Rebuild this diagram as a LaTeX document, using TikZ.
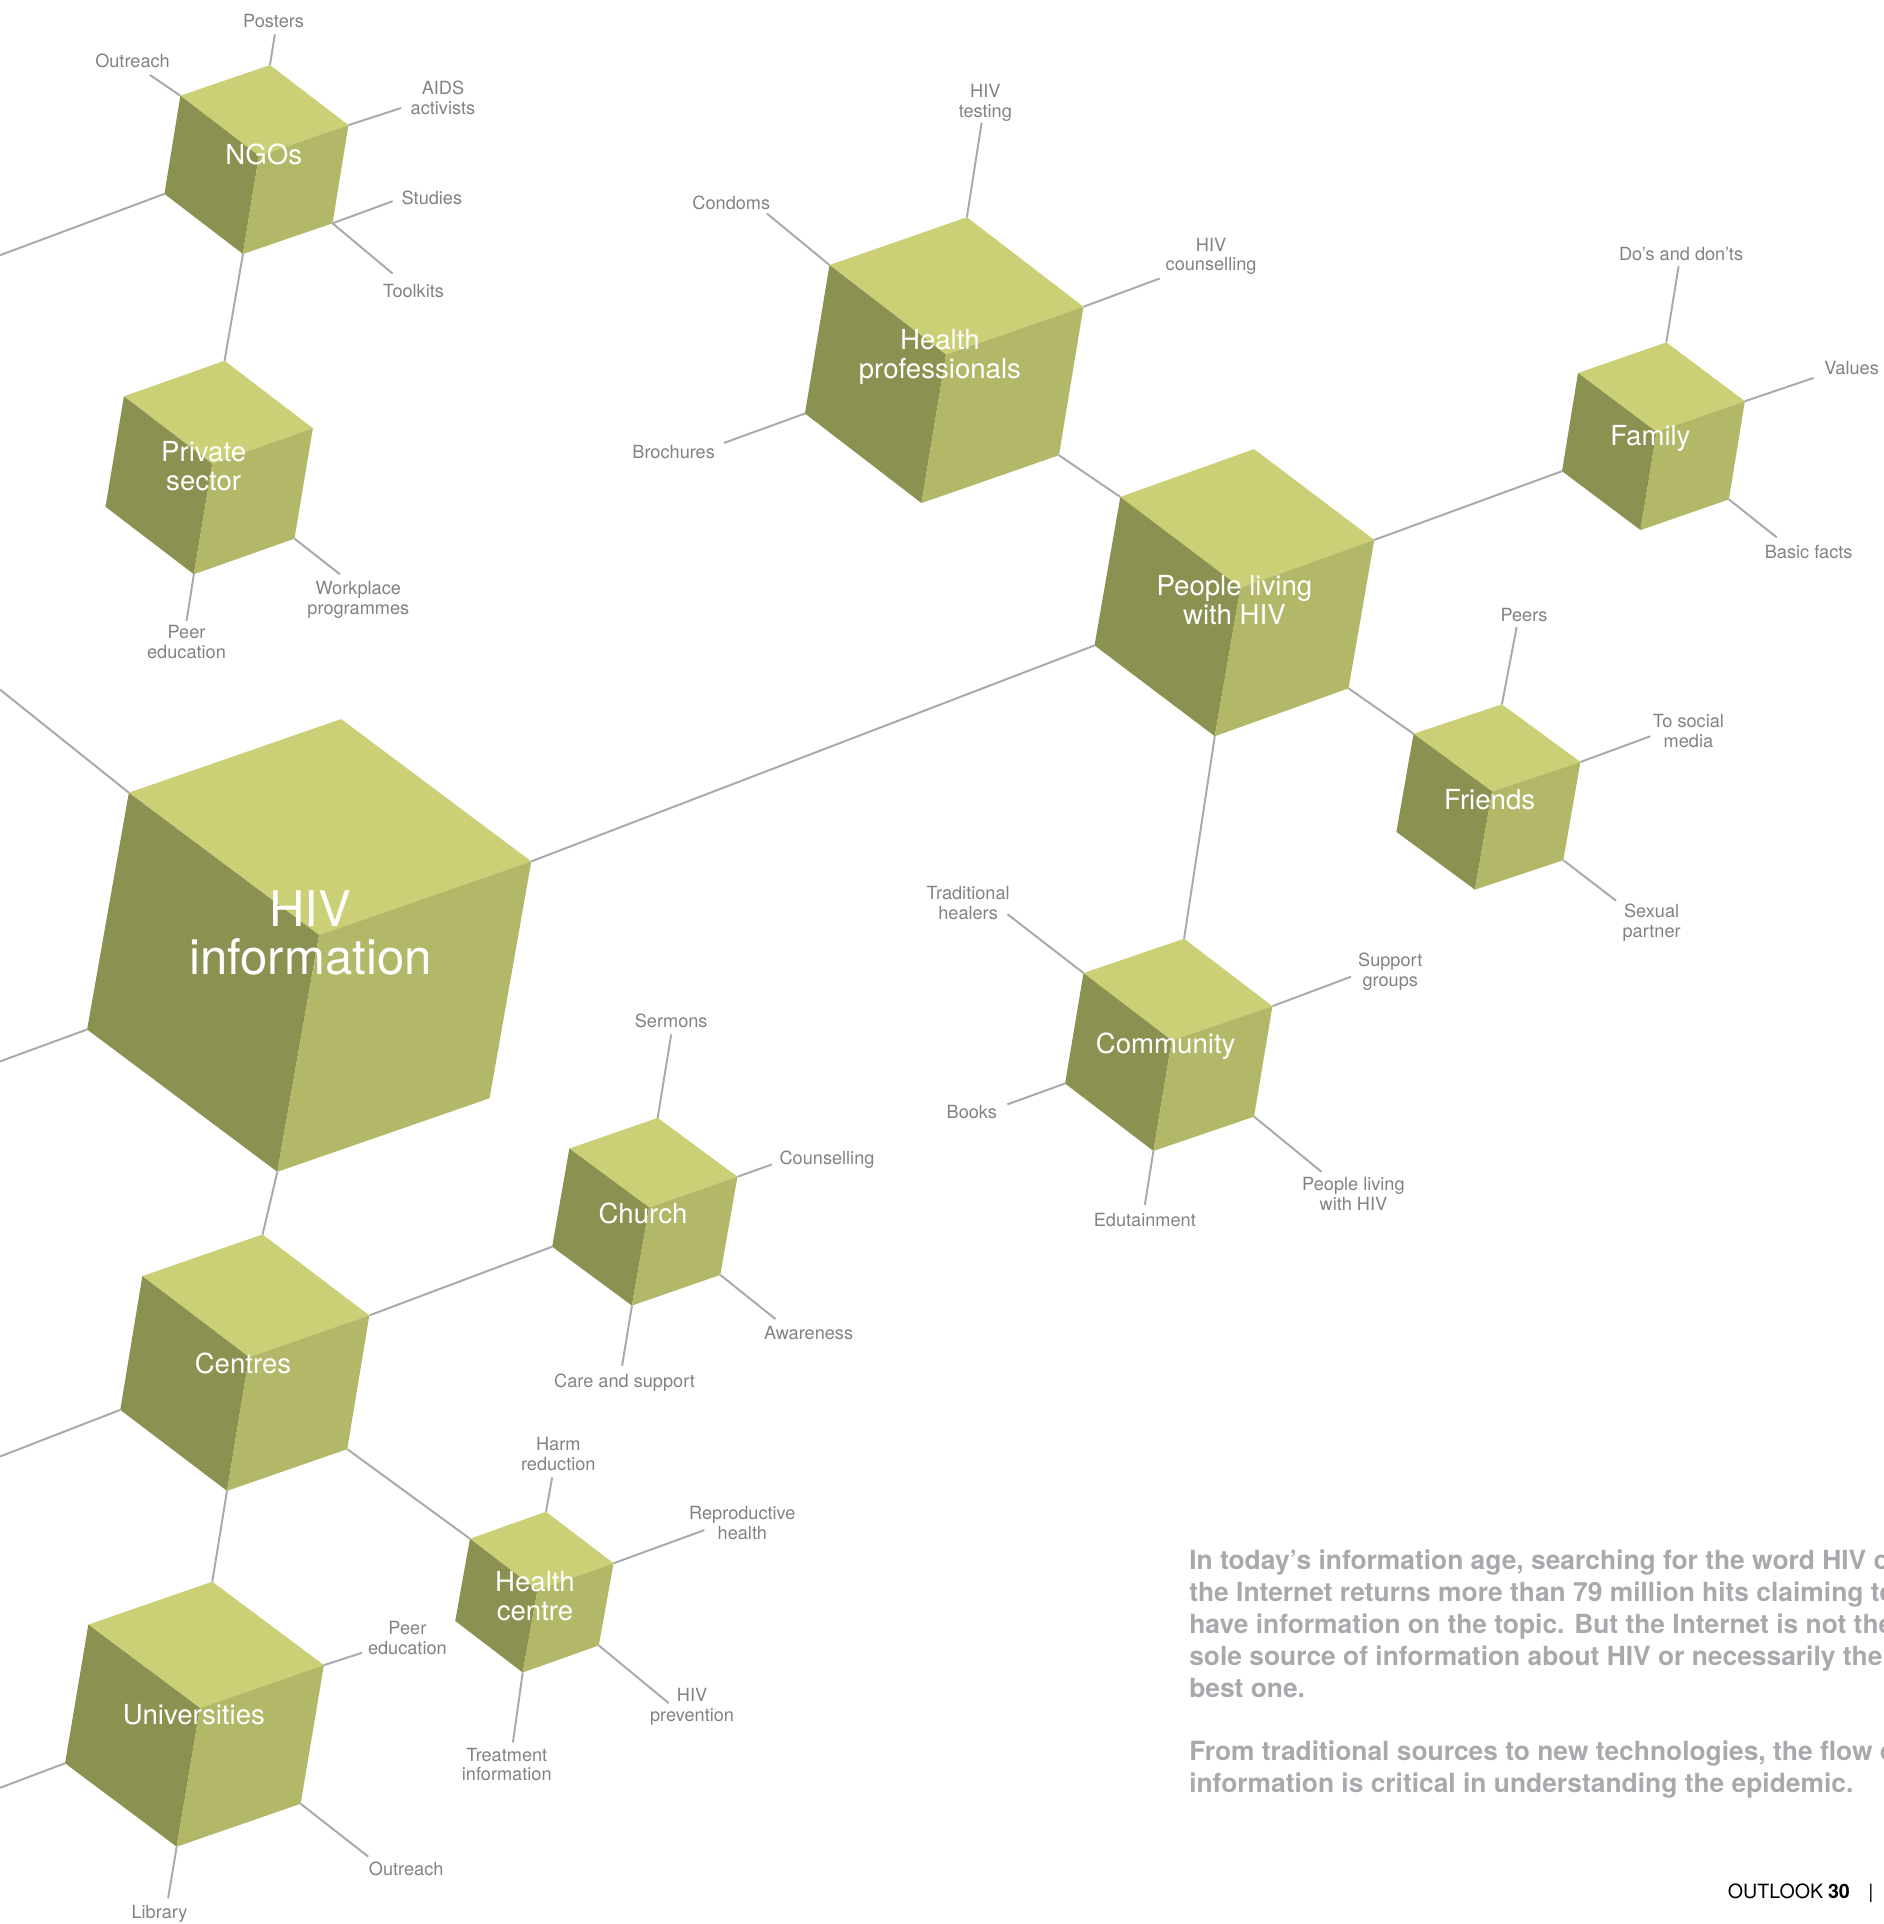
\documentclass[tikz,border=0pt]{standalone}
\usepackage{fontspec}
\setmainfont{TeX Gyre Heros}
\usetikzlibrary{calc}

\definecolor{topface}{HTML}{CBCF75}
\definecolor{leftface}{HTML}{8B9251}
\definecolor{rightface}{HTML}{B3B768}
\definecolor{linkgray}{HTML}{A7A9AC}
\definecolor{labelgray}{HTML}{808285}
\definecolor{bodygray}{HTML}{A7A9AC}

\tikzset{
  link/.style={draw=linkgray, line width=1.6pt},
  leaflabel/.style={text=labelgray, font=\fontsize{14.8}{16}\selectfont, align=center, inner sep=0pt},
  cubelabel/.style={text=white, font=\fontsize{22.5}{24}\selectfont, align=center, inner sep=0pt},
  bodytext/.style={text=bodygray, font=\fontsize{21.5}{26}\selectfont\bfseries, anchor=base west, inner sep=0pt}
}

% cube: [label options] name, top, left, right, down edge, label
\newcommand{\infocube}[7][]{%
  \coordinate (#2-T) at (#3);
  \coordinate (#2-L) at (#4);
  \coordinate (#2-R) at (#5);
  \coordinate (#2-C) at ($(#2-L)+(#2-R)-(#2-T)$);
  \coordinate (#2-BL) at ($(#2-L)+(#6)$);
  \coordinate (#2-B) at ($(#2-C)+(#6)$);
  \coordinate (#2-BR) at ($(#2-R)+(#6)$);
  \fill[topface] (#2-T) -- (#2-L) -- (#2-C) -- (#2-R) -- cycle;
  \fill[leftface] (#2-L) -- (#2-BL) -- (#2-B) -- (#2-C) -- cycle;
  \fill[rightface] (#2-C) -- (#2-B) -- (#2-BR) -- (#2-R) -- cycle;
  \node[cubelabel,#1] (#2) at ($(#2-C)+(-5,5)$) {#7};
}
% leaf: from, name, free end, label position, text
\newcommand{\cubeleaf}[5]{%
  \coordinate (#2-end) at (#3);
  \draw[link] (#1) -- (#2-end);
  \node[leaflabel] (#2) at (#4) {#5};
}

\begin{document}
\begin{tikzpicture}[x=1pt,y=-1pt]
  \useasboundingbox (0,0) rectangle (1535,1568);
  \clip (0,0) rectangle (1535,1568);

  % the cubes
  \infocube[xshift=-2pt,yshift=7pt,font=\fontsize{40}{39}\selectfont]{hiv}{278,586}{105,646}{433,702}{-34,193}{HIV\\information}
  \infocube[xshift=9pt,yshift=6pt]{ngo}{220,53}{147,78}{284,102}{-13,80}{NGOs}
  \infocube[xshift=-2pt,yshift=3pt]{priv}{183,294}{101,323}{255,349}{-15,90}{Private\\sector}
  \infocube[yshift=3pt]{hpro}{788,177}{676,216}{883,250}{-20,121}{Health\\professionals}
  \infocube[yshift=-5pt]{plhiv}{1022,366}{913,405}{1120,440}{-21,121}{People living\\with HIV}
  \infocube{fam}{1358,279}{1286,304}{1422,327}{-13,80}{Family}
  \infocube[xshift=3pt,yshift=-2pt]{frnd}{1224,574}{1152,598}{1288,621}{-14,80}{Friends}
  \infocube{comm}{965,765}{883,793}{1037,820}{-15,90}{Community}
  \infocube{church}{536,911}{464,936}{601,959}{-14,80}{Church}
  \infocube{cent}{214,1006}{116,1040}{301,1072}{-18,109}{Centres}
  \infocube[xshift=3pt]{hcen}{445,1232}{383,1254}{500,1274}{-12,67}{Health\\centre}
  \infocube{uni}{173,1289}{72,1324}{264,1357}{-19,113}{Universities}

  % links between cubes
  \draw[link] (ngo-B) -- (priv-T);
  \draw[link] (hiv-R) -- (plhiv-BL);
  \draw[link] (hpro-BR) -- (plhiv-L);
  \draw[link] (plhiv-R) -- (fam-BL);
  \draw[link] (plhiv-BR) -- (frnd-L);
  \draw[link] (plhiv-B) -- (comm-T);
  \draw[link] (hiv-B) -- (cent-T);
  \draw[link] (cent-R) -- (church-BL);
  \draw[link] (cent-BR) -- (hcen-L);
  \draw[link] (cent-B) -- (uni-T);

  % links running off the page
  \coordinate (ngo-out) at (0,208);
  \coordinate (hiv-outa) at (0,562);
  \coordinate (hiv-outb) at (0,865);
  \coordinate (cent-out) at (0,1187);
  \coordinate (uni-out) at (0,1457);
  \draw[link] (ngo-BL) -- (ngo-out);
  \draw[link] (hiv-L) -- (hiv-outa);
  \draw[link] (hiv-BL) -- (hiv-outb);
  \draw[link] (cent-BL) -- (cent-out);
  \draw[link] (uni-BL) -- (uni-out);

  % NGOs
  \cubeleaf{ngo-T}{posters}{224,28}{223,17}{Posters}
  \cubeleaf{ngo-L}{ngo-outreach}{122,61}{108,50}{Outreach}
  \cubeleaf{ngo-R}{activists}{327,88}{361,80}{AIDS\\activists}
  \cubeleaf{ngo-BR}{studies}{320,164}{352,161}{Studies}
  \cubeleaf{ngo-BR}{toolkits}{320,223}{337,237}{Toolkits}
  % private sector
  \cubeleaf{priv-BR}{workplace}{277,468}{292,489}{Workplace\\programmes}
  \cubeleaf{priv-B}{priv-peer}{152,506}{152,523}{Peer\\education}
  % health professionals
  \cubeleaf{hpro-T}{testing}{800,100}{803,84}{HIV\\testing}
  \cubeleaf{hpro-L}{condoms}{625,174}{596,165}{Condoms}
  \cubeleaf{hpro-R}{hpro-couns}{945,227}{987,209}{HIV\\counselling}
  \cubeleaf{hpro-BL}{brochures}{590,361}{549,368}{Brochures}
  % family
  \cubeleaf{fam-T}{dos}{1368,217}{1370,207}{Do’s and don’ts}
  \cubeleaf{fam-R}{values}{1478,308}{1509,300}{Values}
  \cubeleaf{fam-BR}{facts}{1448,438}{1474,450}{Basic facts}
  % friends
  \cubeleaf{frnd-T}{peers}{1236,511}{1242,501}{Peers}
  \cubeleaf{frnd-R}{social}{1345,600}{1376,596}{To social\\media}
  \cubeleaf{frnd-BR}{partner}{1317,734}{1346,752}{Sexual\\partner}
  % community
  \cubeleaf{comm-L}{healers}{821,745}{789,736}{Traditional\\healers}
  \cubeleaf{comm-R}{support}{1101,796}{1133,792}{Support\\groups}
  \cubeleaf{comm-BL}{books}{821,900}{792,906}{Books}
  \cubeleaf{comm-B}{edutain}{933,982}{933,994}{Edutainment}
  \cubeleaf{comm-BR}{comm-plhiv}{1077,955}{1103,973}{People living\\with HIV}
  % church
  \cubeleaf{church-T}{sermons}{547,843}{547,832}{Sermons}
  \cubeleaf{church-R}{church-couns}{629,949}{674,945}{Counselling}
  \cubeleaf{church-BR}{awareness}{632,1075}{659,1086}{Awareness}
  \cubeleaf{church-B}{care}{507,1113}{509,1127}{Care and support}
  % health centre
  \cubeleaf{hcen-T}{harm}{450,1204}{455,1185}{Harm\\reduction}
  \cubeleaf{hcen-R}{repro}{574,1247}{605,1241}{Reproductive\\health}
  \cubeleaf{hcen-BR}{prevention}{545,1388}{564,1391}{HIV\\prevention}
  \cubeleaf{hcen-B}{treatment}{418,1420}{413,1438}{Treatment\\information}
  % universities
  \cubeleaf{uni-R}{uni-peer}{295,1347}{332,1335}{Peer\\education}
  \cubeleaf{uni-BR}{uni-outreach}{300,1513}{331,1523}{Outreach}
  \cubeleaf{uni-B}{library}{137,1547}{130,1560}{Library}

  % intro text, cut at the page edge
  \foreach \ypos/\txt [count=\k] in {
      1279/{In today’s information age, searching for the word HIV on},
      1305/{the Internet returns more than 79 million hits claiming to},
      1331/{have information on the topic. But the Internet is not the},
      1357/{sole source of information about HIV or necessarily the},
      1383/{best one.},
      1435/{From traditional sources to new technologies, the flow of},
      1461/{information is critical in understanding the epidemic.}}
    \node[bodytext] (intro\k) at (969,\ypos) {\txt};

  \node[anchor=base west, inner sep=0pt, font=\fontsize{16}{18}\selectfont] (folio) at (1408,1547)
    {OUTLOOK\hspace{4pt}\textbf{30}\hspace{15pt}|};
\end{tikzpicture}
\end{document}
